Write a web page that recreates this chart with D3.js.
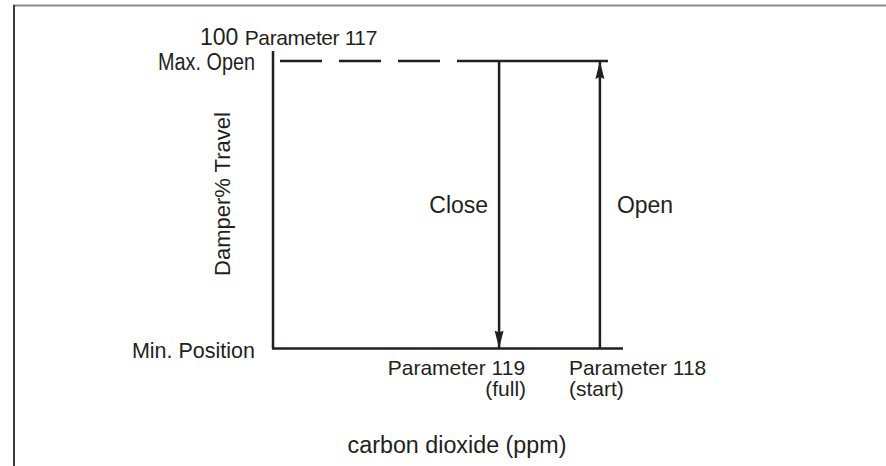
<!DOCTYPE html>
<html>
<head>
<meta charset="utf-8">
<script src="https://cdn.jsdelivr.net/npm/d3@7"></script>
<style>
  body { margin: 0; background: #fff; }
  svg text { font-family: "Liberation Sans", Arial, sans-serif; fill: #231f20; }
</style>
</head>
<body>
<svg class="chart" width="886" height="466"></svg>
<script>
// data
const levelLabels = ["Min. Position", "Max. Open"];
const levelValues = [0, 100];
const setpointNames = ["Parameter 119", "Parameter 118"];
const setpointNotes = ["(full)", "(start)"];
const setpointValues = [64.6, 93.4];   // position along the CO2 axis
const actionLabels = ["Close", "Open"];
const dashedUntil = 53.4;
const maxLineEnd = 95.7;
const xAxisEnd = 100;
const yAxisTop = 103.5;

// config
const ink = "#231f20";
const svg = d3.select("svg.chart");

const x = d3.scaleLinear().domain([0, 100]).range([273, 623]);
const y = d3.scaleLinear().domain([0, 100]).range([348.5, 61]);

// frame
svg.append("line").attr("x1", 13).attr("x2", 886).attr("y1", 5.5).attr("y2", 5.5)
  .attr("stroke", "#8c8c8c").attr("stroke-width", 2);
svg.append("line").attr("x1", 14).attr("x2", 14).attr("y1", 5).attr("y2", 466)
  .attr("stroke", "#3c3c3c").attr("stroke-width", 2);

// arrow markers
const defs = svg.append("defs");
defs.append("marker")
  .attr("id", "head")
  .attr("viewBox", "0 -5 18 10")
  .attr("refX", 18).attr("refY", 0)
  .attr("markerUnits", "userSpaceOnUse")
  .attr("markerWidth", 18).attr("markerHeight", 10)
  .attr("orient", "auto")
  .append("path").attr("d", "M0,-4.5L18,0L0,4.5L2,0Z").attr("fill", ink);

// axes
svg.append("line")
  .attr("x1", x(0)).attr("x2", x(0))
  .attr("y1", y(yAxisTop)).attr("y2", y(0))
  .attr("stroke", ink).attr("stroke-width", 2.5);

svg.append("line")
  .attr("x1", x(0) - 1).attr("x2", x(xAxisEnd))
  .attr("y1", y(0)).attr("y2", y(0))
  .attr("stroke", ink).attr("stroke-width", 2.5);

// max open line: dashed, then solid
svg.append("line")
  .attr("x1", x(2)).attr("x2", x(dashedUntil))
  .attr("y1", y(100)).attr("y2", y(100))
  .attr("stroke", ink).attr("stroke-width", 2.5)
  .attr("stroke-dasharray", "42,17");
svg.append("line")
  .attr("x1", x(dashedUntil)).attr("x2", x(maxLineEnd))
  .attr("y1", y(100)).attr("y2", y(100))
  .attr("stroke", ink).attr("stroke-width", 2.5);

// close / open arrows
const arrows = setpointValues.map((v, i) => ({
  x: v,
  from: i === 0 ? 100 : 0,
  to: i === 0 ? 0 : 100
}));
svg.selectAll("line.arrow")
  .data(arrows)
  .enter()
  .append("line").attr("class", "arrow")
  .attr("x1", d => x(d.x)).attr("x2", d => x(d.x))
  .attr("y1", d => y(d.from)).attr("y2", d => y(d.to))
  .attr("stroke", ink).attr("stroke-width", 2.5)
  .attr("marker-end", "url(#head)");

// level labels
svg.selectAll("text.level")
  .data(levelLabels)
  .enter()
  .append("text").attr("class", "level")
  .attr("x", 255)
  .attr("y", (d, i) => y(levelValues[i]) + (i === 0 ? 9.5 : 8.5))
  .attr("text-anchor", "end")
  .attr("font-size", (d, i) => i === 0 ? 21.5 : 23)
  .each(function (d, i) {
    if (i === 1) {
      d3.select(this).attr("textLength", 97).attr("lengthAdjust", "spacingAndGlyphs");
    }
  })
  .text(d => d);

// top label
const topLabel = svg.append("text").attr("x", 200).attr("y", 45);
topLabel.append("tspan").attr("font-size", 23).text("100 ");
topLabel.append("tspan").attr("font-size", 21).attr("letter-spacing", -0.4).text("Parameter 117");

// y title
svg.append("text")
  .attr("transform", `translate(230,194) rotate(-90)`)
  .attr("text-anchor", "middle")
  .attr("font-size", 22)
  .text("Damper% Travel");

// action labels
svg.selectAll("text.action")
  .data(actionLabels)
  .enter()
  .append("text").attr("class", "action")
  .attr("x", (d, i) => x(setpointValues[i]) + (i === 0 ? -11 : 17))
  .attr("y", 213)
  .attr("text-anchor", (d, i) => i === 0 ? "end" : "start")
  .attr("font-size", 23)
  .text(d => d);

// setpoint labels
const sp = svg.selectAll("g.setpoint")
  .data(setpointNames)
  .enter()
  .append("g").attr("class", "setpoint");
sp.append("text")
  .attr("x", (d, i) => x(setpointValues[i]) + (i === 0 ? 26 : -31))
  .attr("y", 375)
  .attr("text-anchor", (d, i) => i === 0 ? "end" : "start")
  .attr("font-size", 21)
  .text(d => d);
sp.append("text")
  .attr("x", (d, i) => x(setpointValues[i]) + (i === 0 ? 27 : -31))
  .attr("y", 396)
  .attr("text-anchor", (d, i) => i === 0 ? "end" : "start")
  .attr("font-size", 21)
  .text((d, i) => setpointNotes[i]);

// x title
svg.append("text")
  .attr("x", 457)
  .attr("y", 453)
  .attr("text-anchor", "middle")
  .attr("font-size", 23.3)
  .text("carbon dioxide (ppm)");
</script>
</body>
</html>
